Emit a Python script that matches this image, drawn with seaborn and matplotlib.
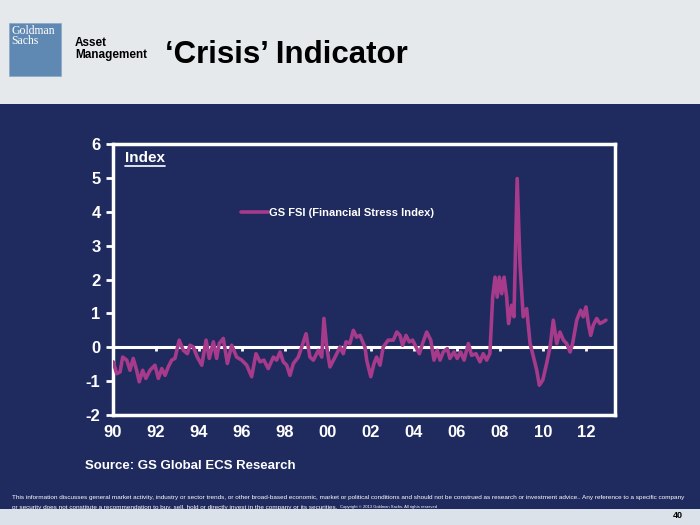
import pandas as pd
import matplotlib.pyplot as plt
import matplotlib.patches as mpatches
from matplotlib.lines import Line2D
import seaborn as sns

# GS FSI (decimal year, index value)
years = [1990.01, 1990.17, 1990.33, 1990.45, 1990.64, 1990.79, 1990.94, 1991.10, 1991.22, 1991.38,
         1991.53, 1991.72, 1991.95, 1992.11, 1992.27, 1992.42, 1992.57, 1992.73, 1992.88, 1993.08,
         1993.27, 1993.46, 1993.58, 1993.73, 1993.92, 1994.13, 1994.33, 1994.48, 1994.67, 1994.82,
         1994.94, 1995.13, 1995.32, 1995.52, 1995.75, 1995.99, 1996.22, 1996.45, 1996.65, 1996.84,
         1997.02, 1997.22, 1997.46, 1997.61, 1997.77, 1997.92, 1998.08, 1998.23, 1998.39, 1998.62,
         1998.78, 1998.98, 1999.16, 1999.32, 1999.55, 1999.71, 1999.81, 1999.94, 2000.09, 2000.33,
         2000.56, 2000.71, 2000.84, 2001.02, 2001.18, 2001.33, 2001.49, 2001.72, 2001.80, 2001.99,
         2002.14, 2002.26, 2002.42, 2002.57, 2002.80, 2003.04, 2003.20, 2003.35, 2003.47, 2003.63,
         2003.78, 2003.94, 2004.09, 2004.25, 2004.40, 2004.59, 2004.78, 2004.93, 2005.08, 2005.21,
         2005.36, 2005.55, 2005.67, 2005.86, 2006.01, 2006.17, 2006.33, 2006.53, 2006.68, 2006.88,
         2007.07, 2007.22, 2007.38, 2007.53, 2007.66, 2007.77, 2007.87, 2007.97, 2008.08, 2008.19,
         2008.31, 2008.40, 2008.54, 2008.65, 2008.80, 2008.93, 2009.08, 2009.24, 2009.40, 2009.52,
         2009.71, 2009.83, 2009.99, 2010.17, 2010.33, 2010.48, 2010.64, 2010.79, 2010.95, 2011.10,
         2011.26, 2011.38, 2011.57, 2011.75, 2011.87, 2012.00, 2012.11, 2012.22, 2012.34, 2012.50,
         2012.65, 2012.80, 2012.93]
fsi = [-0.43, -0.78, -0.73, -0.29, -0.38, -0.68, -0.33, -0.68, -1.02, -0.68,
       -0.92, -0.68, -0.53, -0.92, -0.63, -0.83, -0.58, -0.38, -0.33, 0.21,
       -0.09, -0.19, 0.06, 0.01, -0.29, -0.53, 0.21, -0.33, 0.16, -0.33,
       0.11, 0.26, -0.48, 0.06, -0.29, -0.38, -0.53, -0.87, -0.19, -0.43,
       -0.38, -0.63, -0.29, -0.38, -0.14, -0.43, -0.53, -0.83, -0.48, -0.29,
       0.01, 0.40, -0.29, -0.38, -0.09, -0.29, 0.85, 0.01, -0.58, -0.29,
       0.01, -0.19, 0.16, 0.11, 0.50, 0.30, 0.35, 0.00, -0.38, -0.87,
       -0.48, -0.29, -0.53, 0.01, 0.21, 0.21, 0.45, 0.35, 0.06, 0.35,
       0.16, 0.21, 0.01, -0.19, 0.11, 0.45, 0.21, -0.38, -0.09, -0.38,
       -0.14, -0.04, -0.33, -0.14, -0.33, -0.14, -0.38, 0.11, -0.24, -0.19,
       -0.43, -0.19, -0.38, -0.19, 1.48, 2.07, 1.48, 2.07, 1.58, 2.07,
       1.48, 0.70, 1.24, 0.90, 4.98, 2.47, 0.90, 1.14, 0.11, -0.19,
       -0.68, -1.12, -0.97, -0.48, 0.01, 0.80, 0.11, 0.45, 0.21, 0.11,
       -0.14, 0.11, 0.80, 1.09, 0.90, 1.19, 0.70, 0.35, 0.65, 0.85,
       0.70, 0.75, 0.80]

tick_years = [1990, 1992, 1994, 1996, 1998, 2000, 2002, 2004, 2006, 2008, 2010, 2012]
tick_labels = ['90', '92', '94', '96', '98', '00', '02', '04', '06', '08', '10', '12']
y_ticks = [-2, -1, 0, 1, 2, 3, 4, 5, 6]

NAVY = '#1f2a5e'
MAGENTA = '#a63a8b'

sns.set_theme(style='white')
plt.rcParams['font.family'] = ['Liberation Sans', 'DejaVu Sans']
plt.rcParams['axes.unicode_minus'] = False

df = pd.DataFrame({'year': years, 'fsi': fsi})

W, H = 700, 525
fig = plt.figure(figsize=(7, 5.25), dpi=100, facecolor=NAVY)

# header band, logo, title
fig.patches.append(mpatches.Rectangle((0, 1 - 104 / H), 1, 104 / H, transform=fig.transFigure,
                                      facecolor='#e6e9ec', edgecolor='none', zorder=0))
fig.patches.append(mpatches.Rectangle((9 / W, 1 - 76 / H), 52 / W, 53 / H, transform=fig.transFigure,
                                      facecolor='#5f88b3', edgecolor='#8aa8c8', lw=0.5, zorder=1))
fig.text(11 / W, 1 - 25 / H, 'Goldman\nSachs', color='white', fontsize=8.5, linespacing=0.8,
         family=['Liberation Serif', 'DejaVu Serif'], va='top', ha='left')
fig.text(75 / W, 1 - 49 / H, 'Asset\nManagement', color='black', fontsize=8.5, weight='bold',
         linespacing=1.05, family=['Liberation Sans Narrow', 'Liberation Sans'], va='center')
fig.text(165 / W, 1 - 55 / H, '\u2018Crisis\u2019 Indicator', color='black', fontsize=22.5,
         weight='bold', va='center')

# chart
ax = fig.add_axes([113 / W, 1 - 415 / H, 502 / W, 271 / H])
ax.set_facecolor(NAVY)
ax.axhline(0, color='white', lw=2.2, zorder=1)
ax.vlines(tick_years[1:], -0.1, 0, color='white', lw=2, zorder=1)
sns.lineplot(data=df, x='year', y='fsi', color=MAGENTA, lw=2.6, ax=ax, zorder=3,
             label='GS FSI (Financial Stress Index)')

ax.set_xlim(1990, 2013.35)
ax.set_ylim(-2, 6)
ax.set_xticks(tick_years)
ax.set_xticklabels(tick_labels)
ax.set_yticks(y_ticks)
ax.set_xlabel('')
ax.set_ylabel('')
for s in ax.spines.values():
    s.set_color('white')
    s.set_linewidth(2.5)
ax.tick_params(axis='x', length=0, pad=7, labelsize=12, labelcolor='white')
ax.tick_params(axis='y', length=5, width=2, color='white', direction='out', pad=4,
               labelsize=12, labelcolor='white', left=True)
for lab in ax.get_xticklabels() + ax.get_yticklabels():
    lab.set_fontweight('bold')

leg = ax.legend(loc='center left', bbox_to_anchor=(0.235, 0.745), frameon=False,
                prop={'weight': 'bold', 'size': 8}, handlelength=2.4, handletextpad=0.15,
                labelcolor='white')

idx = ax.text(0.024, 0.948, 'Index', transform=ax.transAxes, fontsize=11, weight='bold',
              color='white', va='center', ha='left')

# source and disclaimer
fig.text(85 / W, 1 - 466 / H, 'Source: GS Global ECS Research', color='white', fontsize=9.5,
         weight='bold', va='center')
line1 = fig.text(12 / W, 1 - 497 / H,
                 'This information discusses general market activity, industry or sector trends, or other '
                 'broad-based economic, market or political conditions and should not be construed as research '
                 'or investment advice.. Any reference to a specific company',
                 color='white', fontsize=5.2, va='center')
line2 = fig.text(12 / W, 1 - 507 / H,
                 'or security does not constitute a recommendation to buy, sell, hold or directly invest '
                 'in the company or its securities.',
                 color='white', fontsize=5.2, va='center')

fig.canvas.draw()
r = fig.canvas.get_renderer()
# squeeze the disclaimer to the slide width (the original uses a narrow face)
scale = (691 - 12) / line1.get_window_extent(r).width
line1.set_fontsize(5.2 * scale)
line2.set_fontsize(5.2 * scale)
fig.canvas.draw()
bb = line2.get_window_extent(r)
fig.text((bb.x1 + 3) / W, 1 - 507 / H, 'Copyright \u00a9 2013 Goldman Sachs. All rights reserved',
         color='white', fontsize=3, va='center')
ib = idx.get_window_extent(r)
fig.add_artist(Line2D([ib.x0 / W, ib.x1 / W], [(ib.y0 - 1) / H, (ib.y0 - 1) / H], color='white', lw=1.2))

# footer band with page number
fig.patches.append(mpatches.Rectangle((0, 0), 1, 16 / H, transform=fig.transFigure,
                                      facecolor='#dbe2e9', edgecolor='none', zorder=5))
fig.text(678 / W, 1 - 516 / H, '40', color='black', fontsize=6.5, weight='bold',
         ha='center', va='center', zorder=6)

fig.savefig('out.png', dpi=100, facecolor=NAVY)
